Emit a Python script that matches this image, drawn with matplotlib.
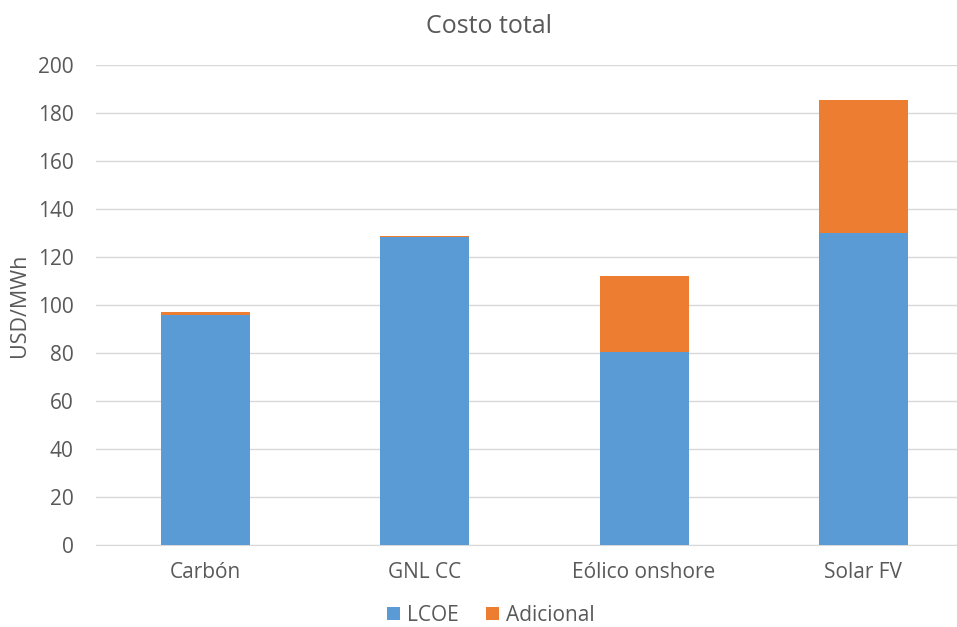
import matplotlib.pyplot as plt
import numpy as np

categories = ["Carbón", "GNL CC", "Eólico onshore", "Solar FV"]
lcoe = [96.0, 128.4, 80.3, 130.0]
adicional = [0.9, 0.5, 31.8, 55.4]
yticks = [0, 20, 40, 60, 80, 100, 120, 140, 160, 180, 200]

plt.rcParams['font.family'] = ['Open Sans', 'DejaVu Sans']
text_color = '#595959'

fig = plt.figure(figsize=(9.57, 6.27), dpi=100)
ax = fig.add_axes([0.1003, 0.1308, 0.9164, 0.7655])

x = np.arange(len(categories))
w = 0.405
ax.bar(x, lcoe, width=w, color='#5B9BD5', label='LCOE', zorder=3)
ax.bar(x, adicional, width=w, bottom=lcoe, color='#ED7D31', label='Adicional', zorder=3)

ax.set_xlim(-0.5, len(categories) - 0.5)
ax.set_ylim(0, 200)
ax.set_yticks(yticks)
ax.set_xticks(x)
ax.set_xticklabels(categories)
ax.grid(axis='y', color='#D9D9D9', linewidth=1.0, zorder=0)
for s in ['top', 'right', 'left']:
    ax.spines[s].set_visible(False)
ax.spines['bottom'].set_color('#D9D9D9')
ax.tick_params(axis='both', length=0, labelsize=15, colors=text_color)
ax.tick_params(axis='y', pad=16)
ax.tick_params(axis='x', pad=12)
ax.set_ylabel('USD/MWh', fontsize=15.5, color=text_color, labelpad=6)

fig.text(0.511, 0.958, 'Costo total', ha='center', va='center', fontsize=18, color=text_color)

leg = fig.legend(loc='lower center', bbox_to_anchor=(0.513, 0.0), ncol=2, frameon=False,
                 fontsize=15, handlelength=0.6, handleheight=0.6, handletextpad=0.35,
                 columnspacing=1.3, labelcolor=text_color, borderpad=0.05,
                 borderaxespad=0.0)

fig.savefig('out.png', dpi=100)
